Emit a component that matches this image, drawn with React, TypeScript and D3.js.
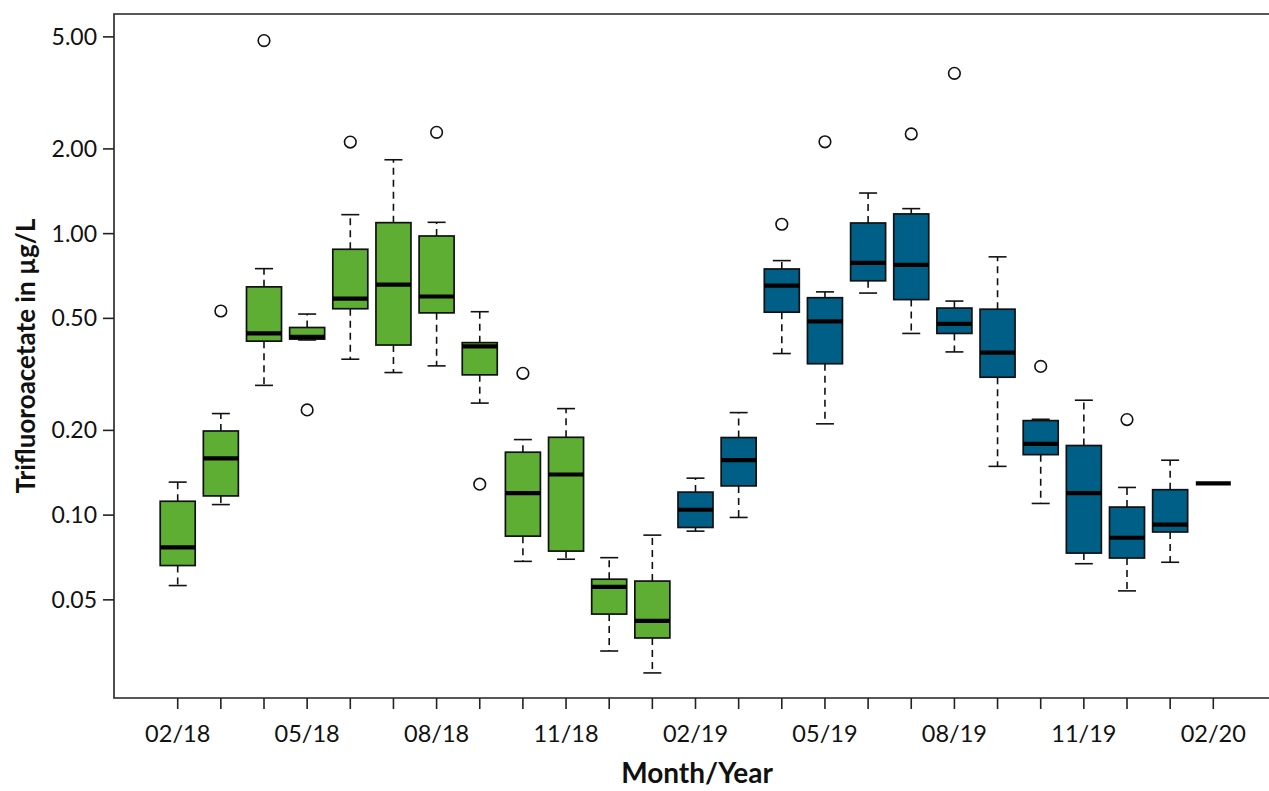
import { scaleLinear, scaleLog } from "d3";

// month labels, one box per month
const months = [
  "02/18", "03/18", "04/18", "05/18", "06/18", "07/18", "08/18", "09/18", "10/18", "11/18", "12/18", "01/19",
  "02/19", "03/19", "04/19", "05/19", "06/19", "07/19", "08/19", "09/19", "10/19", "11/19", "12/19", "01/20",
  "02/20",
];
// 2018 campaign (green) vs 2019 campaign (blue)
const campaign = [
  0, 0, 0, 0, 0, 0, 0, 0, 0, 0, 0, 0,
  1, 1, 1, 1, 1, 1, 1, 1, 1, 1, 1, 1, 1,
];
const whiskerLow = [
  0.0562, 0.109, 0.289, 0.419, 0.358, 0.321, 0.339, 0.250, 0.0685, 0.0697, 0.0329, 0.0275,
  0.0877, 0.0981, 0.375, 0.211, 0.615, 0.442, 0.380, 0.149, 0.110, 0.0672, 0.0538, 0.0680, 0.1296,
];
const q1 = [
  0.0662, 0.117, 0.415, 0.422, 0.541, 0.402, 0.523, 0.315, 0.0842, 0.0745, 0.0445, 0.0366,
  0.0904, 0.127, 0.526, 0.345, 0.680, 0.583, 0.442, 0.309, 0.164, 0.0733, 0.0704, 0.0871, 0.1296,
];
const medians = [
  0.0768, 0.159, 0.442, 0.430, 0.588, 0.659, 0.598, 0.3975, 0.1197, 0.1394, 0.0556, 0.0421,
  0.1045, 0.1567, 0.654, 0.488, 0.787, 0.774, 0.478, 0.378, 0.179, 0.1197, 0.0831, 0.0925, 0.1296,
];
const q3 = [
  0.112, 0.199, 0.647, 0.464, 0.880, 1.094, 0.981, 0.410, 0.1673, 0.189, 0.0592, 0.0583,
  0.1207, 0.1886, 0.749, 0.592, 1.091, 1.175, 0.544, 0.539, 0.2166, 0.1767, 0.1068, 0.1231, 0.1296,
];
const whiskerHigh = [
  0.131, 0.2295, 0.751, 0.518, 1.168, 1.83, 1.097, 0.528, 0.1855, 0.239, 0.0706, 0.0849,
  0.1353, 0.2313, 0.802, 0.621, 1.394, 1.227, 0.576, 0.827, 0.219, 0.256, 0.1254, 0.1567, 0.1296,
];
// outliers: [month index, value]
const outliers: [number, number][] = [
  [1, 0.531], [2, 4.85], [3, 0.2364], [4, 2.115], [6, 2.29], [7, 0.1288], [8, 0.319],
  [14, 1.08], [15, 2.12], [17, 2.26], [18, 3.71], [20, 0.3376], [22, 0.2185],
];
const yTicks = [0.05, 0.1, 0.2, 0.5, 1, 2, 5];

const colors = ["#5EAE34", "#005F86"];

export default function App() {
  const width = 1269,
    height = 791;
  const left = 114,
    top = 14,
    bottom = 698;
  const font = "Lato, 'Open Sans', sans-serif";

  const x = scaleLinear().domain([0, months.length - 1]).range([177.7, 1213.3]);
  const y = scaleLog().domain([0.0224, 6.03]).range([bottom, top]);

  const boxW = 35,
    capW = 18;

  return (
    <svg
      width={width}
      height={height}
      style={{ position: "absolute", left: 0, top: 0, background: "#fff" }}
      fontFamily={font}
    >
      {/* plot frame, right side runs off the page */}
      <path
        d={`M${width + 5},${top}H${left}V${bottom}H${width + 5}`}
        fill="none"
        stroke="#222"
        strokeWidth={1.6}
      />

      {/* y axis */}
      {yTicks.map((t) => (
        <g key={t} transform={`translate(0,${y(t)})`}>
          <line x1={left - 11} x2={left} stroke="#222" strokeWidth={1.6} />
          <text x={left - 17} dy="0.35em" textAnchor="end" fontSize={23} fill="#111">
            {t.toFixed(2)}
          </text>
        </g>
      ))}
      <text
        transform={`translate(26,${(top + bottom) / 2}) rotate(-90)`}
        textAnchor="middle"
        dy="0.35em"
        fontSize={26}
        fontWeight="bold"
        fill="#111"
      >
        Trifluoroacetate in µg/L
      </text>

      {/* x axis */}
      {months.map((m, i) => (
        <g key={m} transform={`translate(${x(i)},0)`}>
          <line y1={bottom} y2={bottom + 11} stroke="#222" strokeWidth={1.6} />
          {i % 3 === 0 && (
            <text y={bottom + 44} textAnchor="middle" fontSize={23.5} fill="#111">
              {m}
            </text>
          )}
        </g>
      ))}
      <text x={697} y={783} textAnchor="middle" fontSize={28} fontWeight="bold" fill="#111">
        Month/Year
      </text>

      {/* boxes */}
      {months.map((m, i) => {
        const cx = x(i);
        return (
          <g key={"b" + m}>
            <line
              x1={cx} x2={cx} y1={y(q3[i])} y2={y(whiskerHigh[i])}
              stroke="#111" strokeWidth={1.6} strokeDasharray="7,5"
            />
            <line
              x1={cx} x2={cx} y1={y(q1[i])} y2={y(whiskerLow[i])}
              stroke="#111" strokeWidth={1.6} strokeDasharray="7,5"
            />
            <line x1={cx - capW / 2} x2={cx + capW / 2} y1={y(whiskerHigh[i])} y2={y(whiskerHigh[i])} stroke="#111" strokeWidth={1.6} />
            <line x1={cx - capW / 2} x2={cx + capW / 2} y1={y(whiskerLow[i])} y2={y(whiskerLow[i])} stroke="#111" strokeWidth={1.6} />
            <rect
              x={cx - boxW / 2}
              y={y(q3[i])}
              width={boxW}
              height={y(q1[i]) - y(q3[i])}
              fill={colors[campaign[i]]}
              stroke="#111"
              strokeWidth={1.7}
            />
            <line
              x1={cx - boxW / 2} x2={cx + boxW / 2} y1={y(medians[i])} y2={y(medians[i])}
              stroke="#000" strokeWidth={4.2}
            />
          </g>
        );
      })}

      {/* outliers */}
      {outliers.map(([i, v], k) => (
        <circle key={k} cx={x(i)} cy={y(v)} r={5.8} fill="#fff" stroke="#111" strokeWidth={1.6} />
      ))}
    </svg>
  );
}
